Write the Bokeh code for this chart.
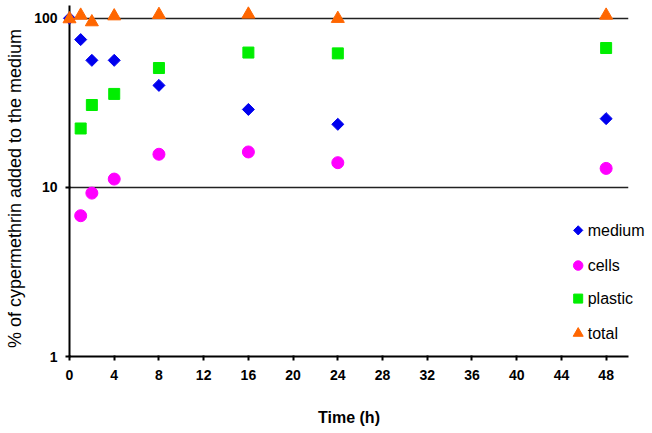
import numpy as np
from bokeh.plotting import figure
from bokeh.models import FixedTicker, Range1d
from bokeh.core.properties import value
from bokeh.embed import file_html
from bokeh.resources import INLINE

# ---- data ----
t_medium = [0, 1, 2, 4, 8, 16, 24, 48]
medium = [100, 74.8, 56.4, 56.4, 40.1, 28.9, 23.6, 25.5]

t_cells = [1, 2, 4, 8, 16, 24, 48]
cells = [6.8, 9.25, 11.2, 15.7, 16.2, 14.0, 12.95]

t_plastic = [1, 2, 4, 8, 16, 24, 48]
plastic = [22.3, 30.7, 35.7, 50.8, 62.7, 62.0, 66.7]

t_total = [0, 1, 2, 4, 8, 16, 24, 48]
total = [99, 104, 95, 103, 105, 105.5, 99.5, 104]

series_labels = ["medium", "cells", "plastic", "total"]

x_ticks = [0, 4, 8, 12, 16, 20, 24, 28, 32, 36, 40, 44, 48]
y_ticks = [1, 10, 100]
grid_ticks = [10, 100]

FONT = "Liberation Sans"

p = figure(width=652, height=433, y_axis_type="log",
           x_range=Range1d(0, 50), y_range=Range1d(1, 119),
           output_backend="svg", toolbar_location=None,
           min_border_left=69, min_border_right=24, min_border_top=5, min_border_bottom=77)
p.outline_line_color = None
p.background_fill_color = "white"

p.xgrid.visible = False
p.ygrid.ticker = FixedTicker(ticks=grid_ticks)
p.ygrid.grid_line_color = "#222222"
p.ygrid.grid_line_width = 1.6

for ax in (p.xaxis[0], p.yaxis[0]):
    ax.axis_line_width = 2
    ax.axis_line_color = "black"
    ax.major_tick_line_width = 2
    ax.major_tick_line_color = "black"
    ax.major_tick_out = 4
    ax.major_tick_in = 1
    ax.minor_tick_line_color = None
    ax.major_label_text_font = FONT
    ax.major_label_text_font_style = "bold"
    ax.major_label_text_font_size = "14px"
    ax.major_label_text_color = "black"
    ax.axis_label_text_font = FONT
    ax.axis_label_text_color = "black"

p.xaxis.ticker = FixedTicker(ticks=x_ticks)
p.yaxis.ticker = FixedTicker(ticks=y_ticks)
p.yaxis.major_label_overrides = {1: "1", 10: "10", 100: "100"}
p.xaxis.major_label_standoff = 9
p.yaxis.major_label_standoff = 8

p.xaxis.axis_label = "Time (h)"
p.xaxis.axis_label_text_font_style = "bold"
p.xaxis.axis_label_text_font_size = "16px"
p.xaxis.axis_label_standoff = 26

p.yaxis.axis_label = "% of cypermethrin added to the medium\u00a0\u00a0\u00a0"
p.yaxis.axis_label_text_font_style = "normal"
p.yaxis.axis_label_text_font_size = "18px"
p.yaxis.axis_label_standoff = 6

styles = [
    dict(marker="square", angle=np.pi / 4, color="#0000EE"),
    dict(marker="circle", angle=0.0, color="#FF00FF"),
    dict(marker="square", angle=0.0, color="#00EE00"),
    dict(marker="triangle", angle=0.0, color="#FF6600"),
]
sizes = [8.5, 12, 11, 13]
legend_sizes = [6.5, 9.5, 9, 10]

data = [(t_medium, medium), (t_cells, cells), (t_plastic, plastic), (t_total, total)]
for (xs, ys), st, sz in zip(data, styles, sizes):
    p.scatter(xs, ys, marker=st["marker"], angle=st["angle"], size=sz,
              fill_color=st["color"], line_color=st["color"], level="overlay")

# manual legend (drawn unclipped so the labels may run past the axis end)
leg_x_glyph = 45.5
leg_x_text = 46.35
leg_y = [5.57, 3.45, 2.20, 1.37]
for i, (st, lsz) in enumerate(zip(styles, legend_sizes)):
    p.scatter([leg_x_glyph], [leg_y[i]], marker=st["marker"], angle=st["angle"], size=lsz,
              fill_color=st["color"], line_color=st["color"], level="overlay")
p.text(x=[leg_x_text] * 4, y=leg_y, text=series_labels,
       text_font=value(FONT), text_font_size="16px", text_color="black",
       text_baseline="middle", text_align="left", level="overlay")

open("out.html", "w").write(file_html(p, INLINE))
